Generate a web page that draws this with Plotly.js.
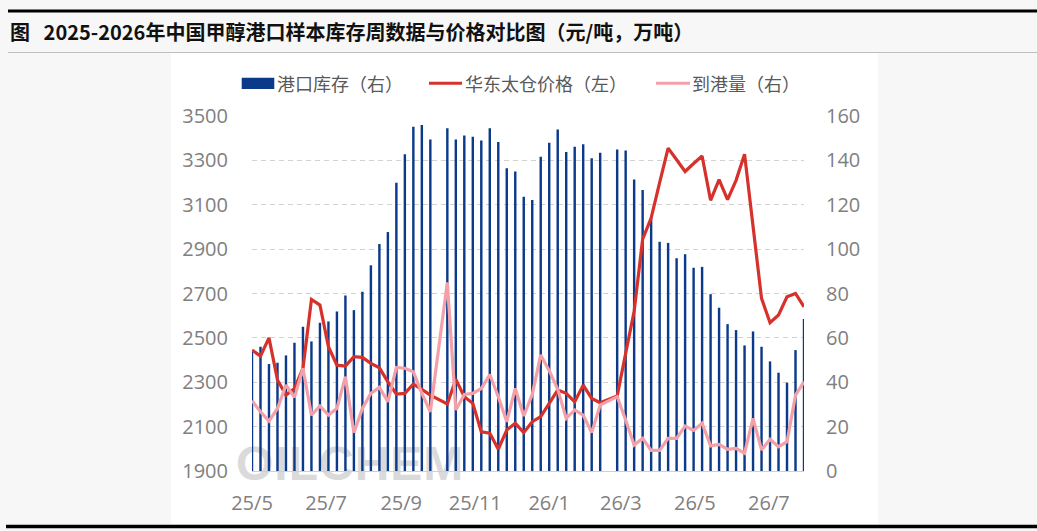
<!DOCTYPE html>
<html>
<head>
<meta charset="utf-8">
<script src="https://cdn.plot.ly/plotly-3.0.1.min.js"></script>
<style>
  html, body { margin:0; padding:0; background:#F7F7F7; width:1037px; height:531px; overflow:hidden; }
  #card { position:absolute; left:171px; top:53px; width:707px; height:471px; background:#FFFFFF; }
  #wm { position:absolute; left:236px; top:446px; font-family:"Liberation Sans", Arial, sans-serif; font-weight:bold;
        font-size:48px; line-height:36px; height:36px; letter-spacing:1px; color:#DADADA; white-space:nowrap; }
  #chart { position:absolute; left:0; top:0; width:1037px; height:531px; }
</style>
</head>
<body>
<div id="card"></div>
<div id="wm">OILCHEM</div>
<div id="chart"></div>
<script>
// ---- data (weekly, Thursdays; 2025-10-02 and 2026-02-19 holiday weeks have no data) ----
const dates = [
  '2025-05-01','2025-05-08','2025-05-15','2025-05-22','2025-05-29','2025-06-05','2025-06-12','2025-06-19','2025-06-26',
  '2025-07-03','2025-07-10','2025-07-17','2025-07-24','2025-07-31','2025-08-07','2025-08-14','2025-08-21','2025-08-28',
  '2025-09-04','2025-09-11','2025-09-18','2025-09-25',
  '2025-10-09','2025-10-16','2025-10-23','2025-10-30','2025-11-06','2025-11-13','2025-11-20','2025-11-27',
  '2025-12-04','2025-12-11','2025-12-18','2025-12-25','2026-01-01','2026-01-08','2026-01-15','2026-01-22','2026-01-29',
  '2026-02-05','2026-02-12',
  '2026-02-26','2026-03-05','2026-03-12','2026-03-19','2026-03-26','2026-04-02','2026-04-09','2026-04-16','2026-04-23',
  '2026-04-30','2026-05-07','2026-05-14','2026-05-21','2026-05-28','2026-06-04','2026-06-11','2026-06-18','2026-06-25',
  '2026-07-02','2026-07-09','2026-07-16','2026-07-23','2026-07-30'
];
// 港口库存（万吨，右轴）
const portInventory = [
  54.5, 56, 48.2, 48.8, 52.1, 57.8, 65, 58.4, 66.8, 67.4, 71.9, 79.1, 72.5, 80.8, 92.7, 102.3, 107.7, 129.9, 142.8, 155.1, 156, 149.4,
  154.5, 149.4, 151.2, 150.6, 149, 154.5, 148.3, 136.5, 135, 123.6, 122.1, 141.6, 147.9, 153.9, 143.8, 146.1, 147.3, 141, 143.4,
  144.9, 144.5, 131.4, 126.6, 113.8, 103.3, 102.8, 95.9, 97.7, 91.6, 92, 79.7, 73.6, 66.2, 63.5, 56.6, 62.9, 56, 49.4, 44.3, 39.8, 54.5, 68.5
];
// 华东太仓价格（元/吨，左轴）
const taicangPrice = [
  2445, 2418, 2500, 2310, 2242, 2272, 2362, 2673, 2648, 2460, 2377, 2373, 2415, 2412, 2385, 2365, 2302, 2247, 2250, 2292, 2268, 2242,
  2202, 2313, 2235, 2205, 2077, 2070, 1998, 2085, 2115, 2073, 2122, 2145, 2205, 2265, 2250, 2212, 2287, 2227, 2208,
  2238, 2430, 2620, 2945, 3040, 3200, 3355, 3303, 3250, 3286, 3320, 3120, 3213, 3123, 3210, 3328, 3000, 2678, 2568, 2603, 2685, 2700, 2640
];
// 到港量（万吨，右轴）
const arrivals = [
  31.7, 26.7, 22.5, 28.2, 38.7, 33.2, 46.3, 25.2, 29.3, 25.2, 28.2, 42.5, 17.3, 28.2, 35, 37.7, 31.2, 46.7, 46.3, 44.7, 35, 26.7,
  85, 27.5, 34.5, 35, 37.2, 43.5, 33.5, 22.2, 37.2, 24.8, 34.5, 52.3, 45.2, 36.8, 23.7, 27.5, 25.2, 17.3, 29.7,
  33.5, 23, 11.7, 14.7, 9.3, 9.3, 14.7, 14.7, 20.3, 18.3, 21.5, 11.3, 12, 9.8, 10.2, 8, 23.7, 9.5, 14.3, 10.9, 13.2, 34.2, 40.2
];
const xTickVals = ['2025-05-01','2025-07-01','2025-09-01','2025-11-01','2026-01-01','2026-03-01','2026-05-01','2026-07-01'];
const xTickText = ['25/5','25/7','25/9','25/11','26/1','26/3','26/5','26/7'];
const seriesNames = ['港口库存（右）','华东太仓价格（左）','到港量（右）'];
const titleText = '图\u00a0\u00a0\u00a02025-2026年中国甲醇港口样本库存周数据与价格对比图（元/吨，万吨）';

// ---- styling ----
const NAVY = '#0B3A8A', RED = '#D6322B', PINK = '#F3A0A9';
const W = 1037, H = 531, L = 252, R = 804, T = 116, B = 471;
const px = x => (x - L) / (R - L);
const py = y => (B - y) / (B - T);
const numFont = {family: '"Open Sans", "Liberation Sans", sans-serif', size: 20, color: '#808080'};
const cjk = '"Noto Sans CJK SC", "Noto Sans", sans-serif';
const DAY = 86400000;

const traces = [
  {type: 'bar', x: dates, y: portInventory, name: seriesNames[0], yaxis: 'y',
   width: 2.0 * DAY, marker: {color: NAVY, line: {width: 0}}},
  {type: 'scatter', mode: 'lines', x: dates, y: taicangPrice, name: seriesNames[1], yaxis: 'y2',
   line: {color: RED, width: 3.2}, cliponaxis: false},
  {type: 'scatter', mode: 'lines', x: dates, y: arrivals, name: seriesNames[2], yaxis: 'y3',
   line: {color: PINK, width: 3.2}, cliponaxis: false}
];

const layout = {
  width: W, height: H,
  margin: {l: L, r: W - R, t: T, b: H - B, pad: 0},
  paper_bgcolor: 'rgba(0,0,0,0)', plot_bgcolor: 'rgba(0,0,0,0)',
  showlegend: false,
  title: {text: titleText, xref: 'container', yref: 'container', x: 10 / W, xanchor: 'left',
          y: 1 - 33 / H, yanchor: 'middle',
          font: {family: cjk, size: 20, color: '#111111', weight: 'bold'}},
  xaxis: {type: 'date', range: ['2025-05-01', '2026-07-30'], tickmode: 'array',
          tickvals: xTickVals, ticktext: xTickText, tickfont: numFont,
          showgrid: false, zeroline: false, showline: true, linecolor: '#CFCFCF', linewidth: 1,
          ticks: 'outside', ticklen: 14, tickcolor: 'rgba(0,0,0,0)', fixedrange: true},
  yaxis: {side: 'right', range: [0, 160], dtick: 20, tick0: 0, tickfont: numFont,
          showgrid: true, gridcolor: '#D2D2D2', gridwidth: 1, griddash: '5px,4px',
          zeroline: false, showline: false,
          ticks: 'outside', ticklen: 17, tickcolor: 'rgba(0,0,0,0)', fixedrange: true},
  yaxis2: {side: 'left', overlaying: 'y', range: [1900, 3500], dtick: 200, tick0: 1900, tickfont: numFont,
           showgrid: false, zeroline: false, showline: false,
           ticks: 'outside', ticklen: 19, tickcolor: 'rgba(0,0,0,0)', fixedrange: true},
  yaxis3: {overlaying: 'y', range: [0, 160], visible: false, fixedrange: true},
  shapes: [
    {type: 'line', xref: 'paper', yref: 'paper', x0: px(8), x1: px(1037), y0: py(11), y1: py(11),
     line: {color: '#000000', width: 3}},
    {type: 'line', xref: 'paper', yref: 'paper', x0: px(8), x1: px(1037), y0: py(52.5), y1: py(52.5),
     line: {color: '#BFBFBF', width: 1}},
    {type: 'line', xref: 'paper', yref: 'paper', x0: px(6), x1: px(1037), y0: py(526.5), y1: py(526.5),
     line: {color: '#000000', width: 3.5}},
    // custom legend keys
    {type: 'rect', xref: 'paper', yref: 'paper', x0: px(241.7), x1: px(274.3), y0: py(89), y1: py(77.7),
     fillcolor: NAVY, line: {width: 0}},
    {type: 'line', xref: 'paper', yref: 'paper', x0: px(429), x1: px(462), y0: py(83.3), y1: py(83.3),
     line: {color: RED, width: 3}},
    {type: 'line', xref: 'paper', yref: 'paper', x0: px(656), x1: px(690), y0: py(83.3), y1: py(83.3),
     line: {color: PINK, width: 3}}
  ],
  annotations: [
    {text: seriesNames[0], xref: 'paper', yref: 'paper', x: px(274.5), y: py(83.5), xanchor: 'left', yanchor: 'middle',
     showarrow: false, font: {family: cjk, size: 18, color: '#595959'}},
    {text: seriesNames[1], xref: 'paper', yref: 'paper', x: px(463), y: py(83.5), xanchor: 'left', yanchor: 'middle',
     showarrow: false, font: {family: cjk, size: 18, color: '#595959'}},
    {text: seriesNames[2], xref: 'paper', yref: 'paper', x: px(689.5), y: py(83.5), xanchor: 'left', yanchor: 'middle',
     showarrow: false, font: {family: cjk, size: 18, color: '#595959'}}
  ]
};

Plotly.newPlot('chart', traces, layout, {displayModeBar: false, staticPlot: true});
</script>
</body>
</html>
